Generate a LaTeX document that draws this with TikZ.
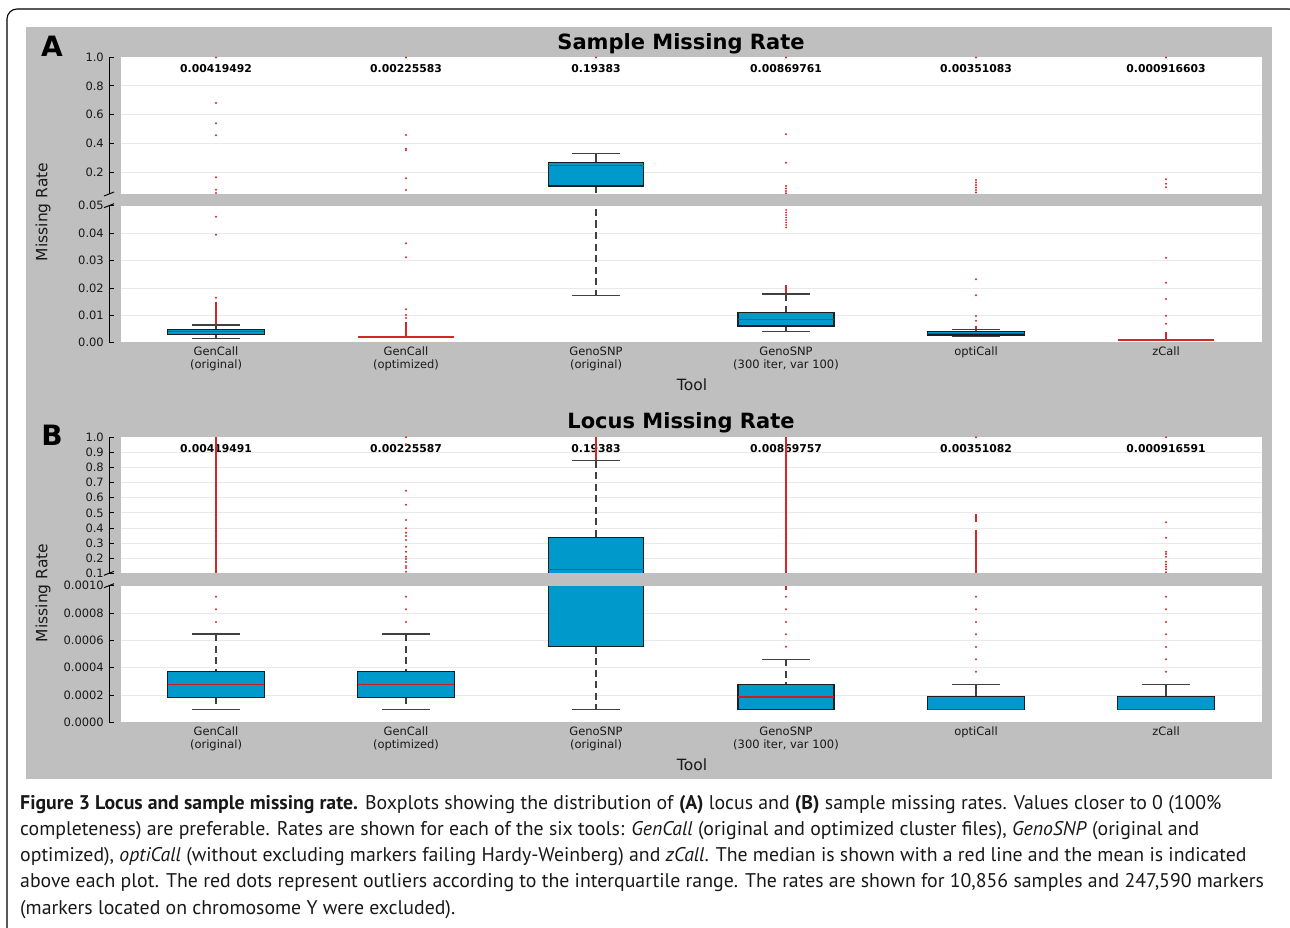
\documentclass[tikz,border=0pt]{standalone}
\usepackage{fontspec}
\setmainfont{DejaVu Sans}
\newfontfamily\capfont{PT Sans}
\definecolor{bggray}{RGB}{191,191,191}
\definecolor{boxblue}{RGB}{0,153,204}
\definecolor{outred}{RGB}{214,39,40}
\definecolor{medred}{RGB}{200,30,30}
\definecolor{gridc}{RGB}{233,233,233}
\definecolor{whiskc}{RGB}{64,64,64}
\definecolor{edgec}{RGB}{30,30,30}
\definecolor{textc}{RGB}{25,25,25}
\newcommand{\outpts}[2]{\foreach \yy in {#2} {\fill[outred] (#1,\yy) circle (1.1);}}
\begin{document}
\begin{tikzpicture}[x=1pt,y=-1pt,
  ticklab/.style={anchor=east,inner sep=0,text=textc,font=\fontsize{11.5}{12}\selectfont},
  meanlab/.style={inner sep=0,text=black,font=\bfseries\fontsize{10.8}{12}\selectfont},
  xlab/.style={inner sep=0,align=center,text=textc,font=\fontsize{11.5}{12.4}\selectfont},
  axlab/.style={inner sep=0,text=textc,font=\fontsize{15.5}{17}\selectfont},
  titlef/.style={inner sep=0,text=black,font=\bfseries\fontsize{21}{24}\selectfont},
  letterf/.style={inner sep=0,text=black,font=\bfseries\fontsize{28}{30}\selectfont},
  captxt/.style={anchor=base west,inner sep=0,text=textc,font=\capfont\fontsize{19.8}{22}\selectfont},
  whisk/.style={draw=whiskc,line width=1.4,dash pattern=on 7pt off 4.5pt},
  capw/.style={draw=whiskc,line width=1.4},
  bx/.style={fill=boxblue,draw=edgec,line width=1.2},
  med/.style={draw=medred,line width=1.2},
  redln/.style={draw=outred,line width=1.7},
  gridln/.style={draw=gridc,line width=1},
  spine/.style={draw=black,line width=1}]
\useasboundingbox (0,0) rectangle (1290,928);
\clip (0,0) rectangle (1290,928);
\fill[white] (0,0) rectangle (1290,928);
\draw[line width=1.1,rounded corners=10] (7,940) -- (7,9) -- (1299,9) -- (1299,940);
\fill[bggray] (26,27) rectangle (1272,779);
% white plot areas
\fill[white] (120.7,57.3) rectangle (1261.7,194);
\fill[white] (120.7,205.7) rectangle (1261.7,342.3);
\fill[white] (120.7,437.3) rectangle (1261.7,573.3);
\fill[white] (120.7,585.7) rectangle (1261.7,722.3);
% grid
\foreach \y in {86,114.3,143.3,172.3,233.3,260.7,288,315.3,452.4,467.5,482.6,497.8,512.9,528.0,543.1,558.2,613.0,640.4,667.7,695.0}
  {\draw[gridln] (120.7,\y) -- (1261.7,\y);}
% titles and letters
\node[letterf] (letA) at (52,46) {A};
\node[titlef] (titleA) at (681,44) {Sample Missing Rate};
\node[letterf] (letB) at (52,435) {B};
\node[titlef] (titleB) at (681,423) {Locus Missing Rate};
\node[axlab,rotate=90] (ylabA) at (43,212) {Missing Rate};
\node[axlab,rotate=90] (ylabB) at (43,593) {Missing Rate};
\node[axlab] (toolA) at (692,385) {Tool};
\node[axlab] (toolB) at (692,765) {Tool};
% y axes
\draw[spine] (109,57.3) -- (109,194);
\draw[spine] (109,205.7) -- (109,342.3);
\draw[spine] (109,437.3) -- (109,573.3);
\draw[spine] (109,585.7) -- (109,722.3);
\foreach \xa/\ya/\xb/\yb in {104/196/114/192, 104/207.7/114/203.7, 104/575.3/114/571.3, 104/587.7/114/583.7}
  {\draw[spine] (\xa,\ya) -- (\xb,\yb);}
\foreach \v/\y [count=\i] in {1.0/57.3,0.8/86,0.6/114.3,0.4/143.3,0.2/172.3}
  {\draw[spine] (109,\y) -- (114,\y); \node[ticklab] (tAu\i) at (104,\y) {\v};}
\foreach \v/\y [count=\i] in {0.05/205.7,0.04/233.3,0.03/260.7,0.02/288,0.01/315.3,0.00/342.3}
  {\draw[spine] (109,\y) -- (114,\y); \node[ticklab] (tAl\i) at (104,\y) {\v};}
\foreach \v/\y [count=\i] in {1.0/437.3,0.9/452.4,0.8/467.5,0.7/482.6,0.6/497.8,0.5/512.9,0.4/528.0,0.3/543.1,0.2/558.2,0.1/573.3}
  {\draw[spine] (109,\y) -- (114,\y); \node[ticklab] (tBu\i) at (104,\y) {\v};}
\foreach \v/\y [count=\i] in {0.0010/585.7,0.0008/613.0,0.0006/640.4,0.0004/667.7,0.0002/695.0,0.0000/722.3}
  {\draw[spine] (109,\y) -- (114,\y); \node[ticklab] (tBl\i) at (104,\y) {\v};}
% mean labels
\foreach \x/\m [count=\i] in {216/0.00419492,406/0.00225583,596/0.19383,786/0.00869761,976/0.00351083,1166/0.000916603}
  {\node[meanlab] (mA\i) at (\x,69) {\m};}
\foreach \x/\m [count=\i] in {216/0.00419491,406/0.00225587,596/0.19383,786/0.00869757,976/0.00351082,1166/0.000916591}
  {\node[meanlab] (mB\i) at (\x,449) {\m};}
% x labels
\foreach \x/\l [count=\i] in {216/{GenCall\\(original)},406/{GenCall\\(optimized)},596/{GenoSNP\\(original)},786/{GenoSNP\\(300 iter, var 100)},976/{optiCall\\\strut},1166/{zCall\\\strut}}
  {\node[xlab,anchor=north] (xA\i) at (\x,347) {\l};
   \node[xlab,anchor=north] (xB\i) at (\x,727) {\l};}
% ===== Panel A data =====
% col1
\fill[outred] (216,57.5) circle (1.1);
\outpts{216}{103,123.3,135.3,177.3,189.7,193,216.7,234.7,297.7}
\draw[redln] (216,301.5) -- (216,326);
\draw[whisk] (216,325) -- (216,329.3);
\draw[whisk] (216,334.3) -- (216,338.3);
\draw[capw] (192,325) -- (240,325);
\draw[capw] (192,338.3) -- (240,338.3);
\draw[bx] (167.7,329.3) rectangle (264.3,334.3);
\draw[med] (167.7,331.8) -- (264.3,331.8);
% col2
\outpts{406}{57.5,135,148.7,150.3,178.3,190,243.3,257.3,309.3,315,318}
\draw[redln] (406,321.5) -- (406,336);
\draw[draw=outred,line width=1.6] (358,336.7) -- (454,336.7);
% col3
\fill[outred] (596,57.5) circle (1.1);
\draw[capw] (572,153.7) -- (620,153.7);
\draw[capw] (596,153.7) -- (596,162.7);
\draw[whisk] (596,186) -- (596,295.3);
\draw[capw] (572,295.3) -- (620,295.3);
\draw[bx] (548.3,162.7) rectangle (643.7,186);
\draw[med] (548.3,165.7) -- (643.7,165.7);
% col4
\outpts{786}{57.5,134.3,162.7,186,188.5,191,193.3}
\foreach \yy in {210,212.5,...,227.5} {\fill[outred] (786,\yy) circle (1);}
\draw[redln] (786,285) -- (786,296);
\draw[whisk] (786,294) -- (786,312.7);
\draw[whisk] (786,326) -- (786,331.7);
\draw[capw] (762,294) -- (810,294);
\draw[capw] (762,331.7) -- (810,331.7);
\draw[bx] (738,312.7) rectangle (834,326);
\draw[med] (738,319.7) -- (834,319.7);
% col5
\outpts{976}{57.5,180,182.5,185,187.5,190,192.5,279.3,295.3,316,320.7}
\draw[redln] (976,325.5) -- (976,331);
\draw[capw] (951.7,329.3) -- (1000,329.3);
\draw[capw] (951.7,336.5) -- (1000,336.5);
\draw[bx] (927.7,331.6) rectangle (1024.3,335);
\draw[draw=medred,line width=1.6] (927.7,333.3) -- (1024.3,333.3);
% col6
\outpts{1166}{57.5,179.3,183.7,187.3,257.7,282.7,299,315.7,323.7}
\draw[redln] (1166,332.3) -- (1166,340);
\draw[draw=outred,line width=1.6] (1117.7,340) -- (1214,340);
% ===== Panel B data =====
% col1
\draw[draw=outred,line width=2.2] (216,437.3) -- (216,573.3);
\outpts{216}{596.7,609.3,622}
\draw[capw] (192,634) -- (240,634);
\draw[whisk] (216,634) -- (216,671.7);
\draw[whisk] (216,697.3) -- (216,709.3);
\draw[capw] (192,709.3) -- (240,709.3);
\draw[bx] (167.7,671.7) rectangle (264.3,697.3);
\draw[med] (167.7,684.3) -- (264.3,684.3);
% col2
\outpts{406}{437.3,444.3,490.7,504.7,520,528.3,532.7,536,540,546.7,551.7,556.7,559,562,566,568,571.7,596.7,609.3,622}
\draw[capw] (382,634) -- (430,634);
\draw[whisk] (406,634) -- (406,671.7);
\draw[whisk] (406,697.3) -- (406,709.3);
\draw[capw] (382,709.3) -- (430,709.3);
\draw[bx] (357.7,671.7) rectangle (454.3,697.3);
\draw[med] (357.7,684.3) -- (454.3,684.3);
% col3
\draw[draw=outred,line width=2] (596,437.3) -- (596,460.7);
\draw[capw] (572,460.7) -- (620,460.7);
\draw[whisk] (596,460.7) -- (596,537.3);
\draw[whisk] (596,646.7) -- (596,709.3);
\draw[capw] (572,709.3) -- (620,709.3);
\draw[bx] (548.3,537.3) rectangle (643.7,646.7);
\draw[med] (548.3,569.7) -- (643.7,569.7);
% col4
\draw[draw=outred,line width=2.2] (786,437.3) -- (786,590);
\outpts{786}{596.7,609.3,622,634.3,646.7}
\draw[capw] (762,659.3) -- (810,659.3);
\draw[whisk] (786,659.3) -- (786,684.3);
\draw[bx] (738,684.3) rectangle (834,709.3);
\draw[med] (738,697) -- (834,697);
% col5
\outpts{976}{437.3,596.7,609.3,622,634.3,647,659.3,671.7}
\draw[redln] (976,514.3) -- (976,521.7);
\draw[draw=outred,line width=1.8] (976,530) -- (976,573.3);
\draw[capw] (951.7,684.3) -- (1000,684.3);
\draw[capw] (976,684.3) -- (976,696.7);
\draw[bx] (927.7,696.7) rectangle (1024.3,709.3);
\draw[draw=medred,line width=1.4] (927.7,709.3) -- (1024.3,709.3);
% col6
\outpts{1166}{437.3,522.3,537.7,551.7,554,556.7,561.7,564.5,566.7,569.3,572.3,596.7,609.3,622,634.3,647,659.3,671.7}
\draw[capw] (1141.7,684.3) -- (1190,684.3);
\draw[capw] (1166,684.3) -- (1166,696.7);
\draw[bx] (1117.7,696.7) rectangle (1214.3,709.3);
\draw[draw=medred,line width=1.4] (1117.7,709.3) -- (1214.3,709.3);
% axis break gaps
\fill[bggray] (115,194) rectangle (1261.7,205.7);
\fill[bggray] (115,573.3) rectangle (1261.7,585.7);
% caption
\node[captxt] (cap1) at (20,809) {\textbf{Figure 3 Locus and sample missing rate.} Boxplots showing the distribution of \textbf{(A)} locus and \textbf{(B)} sample missing rates. Values closer to 0 (100\%};
\node[captxt] (cap2) at (20,835.3) {completeness) are preferable. Rates are shown for each of the six tools: \textit{GenCall} (original and optimized cluster files), \textit{GenoSNP} (original and};
\node[captxt] (cap3) at (20,861.6) {optimized), \textit{optiCall} (without excluding markers failing Hardy-Weinberg) and \textit{zCall}. The median is shown with a red line and the mean is indicated};
\node[captxt] (cap4) at (20,887.9) {above each plot. The red dots represent outliers according to the interquartile range. The rates are shown for 10,856 samples and 247,590 markers};
\node[captxt] (cap5) at (20,914.2) {(markers located on chromosome Y were excluded).};
\end{tikzpicture}
\end{document}
